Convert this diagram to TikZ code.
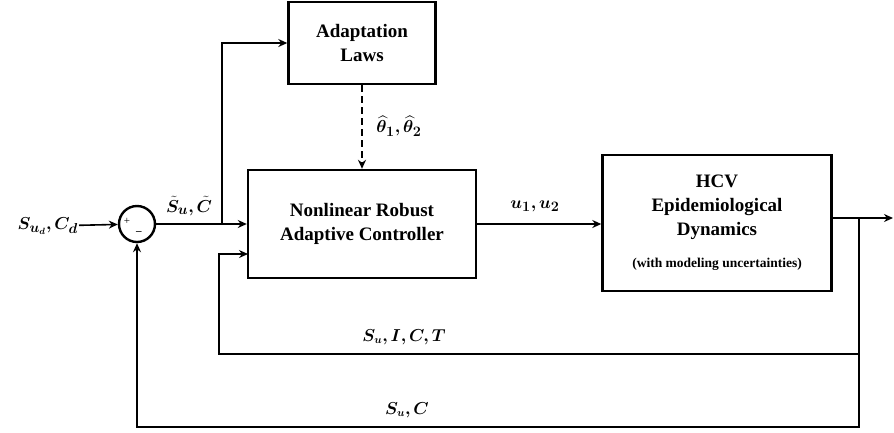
\documentclass[tikz,border=0pt]{standalone}
\usepackage[no-math]{fontspec}
\setmainfont{Liberation Serif}
\usepackage{amsmath,bm}
\usetikzlibrary{arrows.meta,positioning}

\begin{document}
\begin{tikzpicture}[
      x=1pt,y=-1pt,
      blk/.style={
        draw=black,
        line width=2.4pt,
        align=center,
        inner sep=0pt,
        font=\fontsize{19}{24}\selectfont\bfseries
      },
      arr/.style={-{Stealth[length=9pt,width=8pt]},line width=1.6pt},
      fb/.style={line width=1.3pt},
      lbl/.style={font=\fontsize{19}{21}\selectfont,inner sep=1pt},
      fblbl/.style={font=\fontsize{16}{18}\selectfont,inner sep=1pt}
    ]
    \useasboundingbox (0,0) rectangle (894,432);
    \node[blk,minimum width=147pt,minimum height=82pt] (adapt) at (362,43) {Adaptation\\Laws};
    \node[blk,minimum width=228pt,minimum height=108pt] (ctrl) at (362,224) {Nonlinear Robust\\Adaptive Controller};
    \node[blk,minimum width=229pt,minimum height=136pt] (hcv) at (717,223) {HCV\\Epidemiological\\Dynamics\\[8pt]{\fontsize{13.5}{16}\selectfont(with modeling uncertainties)}};
    \node[circle,draw,line width=2.4pt,minimum size=36pt,inner sep=0pt] (sum) at (137,224) {};
    \node[font=\fontsize{11}{11}\selectfont,inner sep=0pt] (plus) at (127,221) {+};
    \node[font=\fontsize{11}{11}\selectfont,inner sep=0pt] (minus) at (139,233) {\textbf{--}};
    % signals
    \node[lbl,anchor=east] (ref) at (79,226) {$\bm{S_{u_d}, C_d}$};
    \node[lbl] (err) at (189,206) {$\tilde{\bm{S}}_{\bm{u}}\bm{,} \tilde{\bm{C}}$};
    \node[lbl] (thetas) at (399,126) {$\widehat{\bm{\theta}}_{\bm{1}}\bm{,} \widehat{\bm{\theta}}_{\bm{2}}$};
    \node[lbl] (uu) at (535,206) {$\bm{u_1, u_2}$};
    \node[fblbl] (fbinner) at (404,337) {$\bm{S_u, I, C, T}$};
    \node[fblbl] (fbouter) at (407,410) {$\bm{S_u, C}$};
    \coordinate (tap) at (222,224);
    \coordinate (split) at (859,218);
    \coordinate (out) at (893,218);
    \coordinate (inner) at (219,354);
    \coordinate (outer) at (859,427);
    \coordinate (fbin) at (248,254);
    \draw[arr] (ref) -- (sum);
    \draw[arr] (sum) -- (ctrl);
    \draw[arr] (tap) |- (adapt.west);
    \draw[arr,dash pattern=on 7pt off 4pt] (adapt) -- (ctrl);
    \draw[arr] (ctrl.east) -- (ctrl.east -| hcv.west);
    \draw[line width=1.6pt] (hcv.east |- split) -- (split);
    \draw[arr] (split) -- (out);
    \draw[arr,fb] (split) -- (outer) -| (sum);
    \draw[arr,fb] (split |- inner) -- (inner) |- (fbin);
  \end{tikzpicture}
\end{document}
